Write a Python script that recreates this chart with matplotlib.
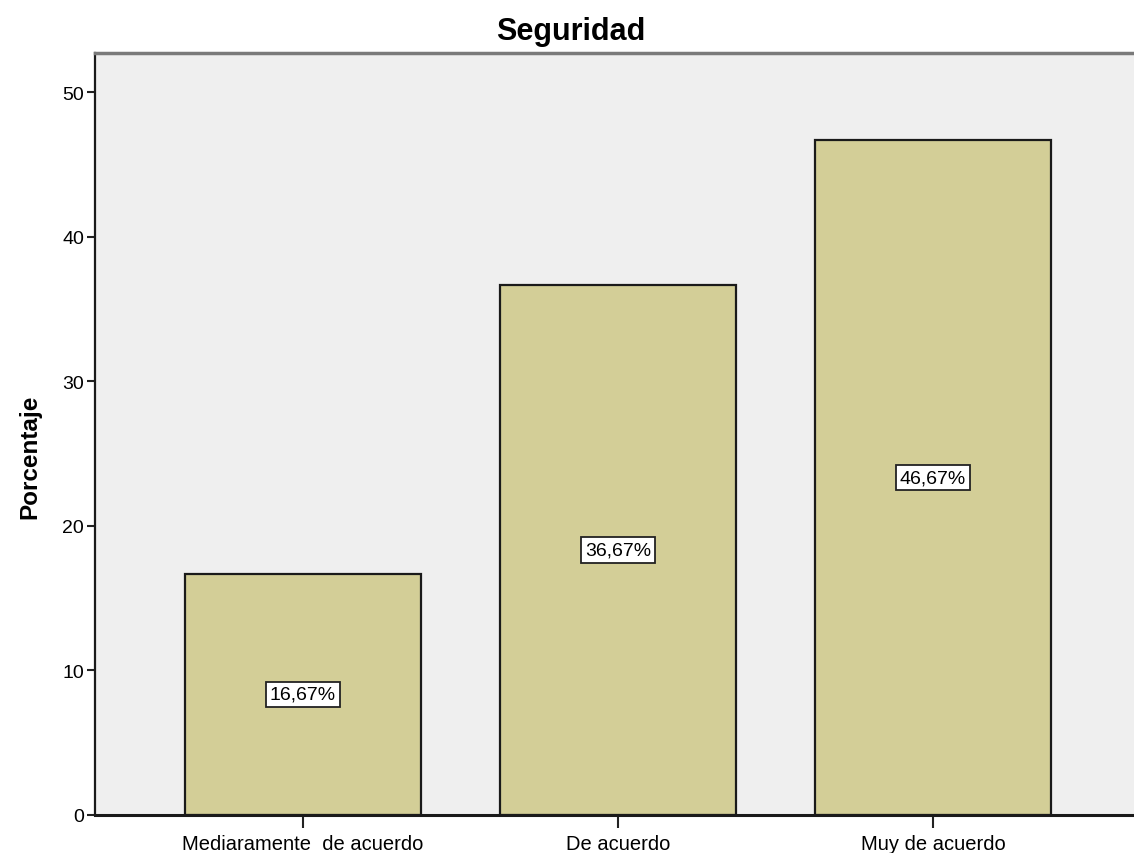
import numpy as np
import matplotlib.pyplot as plt

plt.rcParams['font.family'] = ['Liberation Sans', 'DejaVu Sans']
# ================================================
categorias = ['Mediaramente  de acuerdo', 'De acuerdo', 'Muy de acuerdo']
porcentaje = [16.67, 36.67, 46.67]
yticks     = [0, 10, 20, 30, 40, 50]
# ================================================
fig = plt.figure(figsize=(11.34, 8.54), dpi=100)
ax  = fig.add_axes([95/1134, 38/854, (1134-95)/1134, 762/854])
ax.set_facecolor('#EFEFEF')

x = np.arange(len(categorias))
ax.bar(x, porcentaje, width=0.75, color='#D3CE97', edgecolor='#1a1a1a', lw=1.6, zorder=2)
for xi, v in zip(x, porcentaje):
    ax.text(xi, v/2, f"{v:.2f}%".replace('.', ','), ha='center', va='center', fontsize=14,
            bbox=dict(boxstyle='square,pad=0.22', fc='white', ec='#222222', lw=1.3), zorder=3)

ax.set_xlim(-0.66, 2.638)
ax.set_ylim(0, 52.7)
ax.set_xticks(x)
ax.set_xticklabels(categorias, fontsize=14.5)
ax.set_yticks(yticks)
ax.set_yticklabels([str(t) for t in yticks], fontsize=14)
ax.tick_params(axis='x', length=9, width=1.5, pad=5, color='#222222')
ax.tick_params(axis='y', length=6, width=1.5, pad=2, color='#222222')

ax.spines['right'].set_visible(False)
ax.spines['top'].set_color('#7a7a7a')
ax.spines['top'].set_linewidth(2.5)
ax.spines['left'].set_color('#1a1a1a')
ax.spines['left'].set_linewidth(1.6)
ax.spines['bottom'].set_color('#1a1a1a')
ax.spines['bottom'].set_linewidth(2.2)

fig.text(571/1134, 1 - 32/854, 'Seguridad', ha='center', va='center', fontsize=22, fontweight='bold')
fig.text(30/1134, 1 - 457/854, 'Porcentaje', ha='center', va='center', rotation=90,
         fontsize=17.5, fontweight='bold')

plt.savefig('out.png', dpi=100)
plt.close()
